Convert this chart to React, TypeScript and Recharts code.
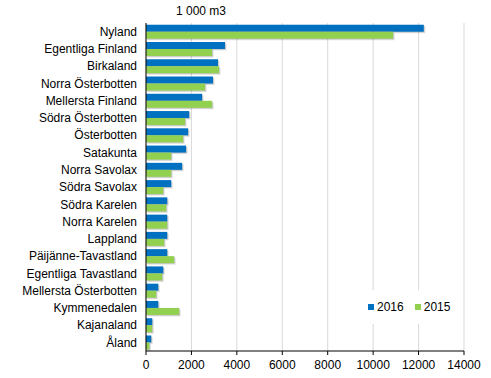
import React from 'react';
import { BarChart, Bar, XAxis, YAxis, CartesianGrid, Legend } from 'recharts';

const regions = [
  'Nyland', 'Egentliga Finland', 'Birkaland', 'Norra Österbotten', 'Mellersta Finland',
  'Södra Österbotten', 'Österbotten', 'Satakunta', 'Norra Savolax', 'Södra Savolax',
  'Södra Karelen', 'Norra Karelen', 'Lappland', 'Päijänne-Tavastland', 'Egentliga Tavastland',
  'Mellersta Österbotten', 'Kymmenedalen', 'Kajanaland', 'Åland',
];
const values2016 = [12230, 3480, 3170, 2950, 2470, 1900, 1855, 1765, 1590, 1110, 935, 935, 935, 935, 760, 540, 540, 275, 230];
const values2015 = [10880, 2910, 3215, 2600, 2910, 1720, 1635, 1110, 1110, 760, 890, 935, 800, 1240, 715, 450, 1460, 275, 145];
const xTicks = [0, 2000, 4000, 6000, 8000, 10000, 12000, 14000];

const data = regions.map((r, i) => ({ region: r, v2016: values2016[i], v2015: values2015[i] }));

const FONT = '"Liberation Sans", Arial, sans-serif';

const ShadowBar = (props: any) => {
  const { x, y, width, height, fill } = props;
  if (!width || width <= 0) return null;
  return (
    <g>
      <rect x={x + 1.5} y={y + 1.5} width={width} height={height} fill="rgba(0,0,0,0.12)" />
      <rect x={x + 0.8} y={y + 0.8} width={width} height={height} fill="rgba(0,0,0,0.10)" />
      <rect x={x} y={y} width={width} height={height} fill={fill} />
    </g>
  );
};

const LegendContent = () => (
  <div style={{ background: '#fff', width: 96, height: 34, display: 'flex', alignItems: 'center', fontFamily: FONT, fontSize: 12, color: '#000' }}>
    <span style={{ display: 'inline-block', width: 6, height: 6, background: '#0070C0', marginLeft: 8, marginRight: 3 }} />
    <span>2016</span>
    <span style={{ display: 'inline-block', width: 6, height: 6, background: '#92D050', marginLeft: 11, marginRight: 3 }} />
    <span>2015</span>
  </div>
);

export default function App() {
  return (
    <div style={{ position: 'absolute', left: 0, top: 0, width: 491, height: 378, background: '#fff' }}>
      <div style={{ position: 'absolute', left: 176, top: 4, fontFamily: FONT, fontSize: 12, color: '#000' }}>1 000 m3</div>
      <BarChart
        width={491}
        height={378}
        data={data}
        layout="vertical"
        margin={{ top: 23, right: 27, bottom: 0, left: 0 }}
        barCategoryGap="10%"
        barGap={0}
      >
        <CartesianGrid horizontal={false} vertical={true} stroke="#d9d9d9" />
        <XAxis
          type="number"
          domain={[0, 14000]}
          ticks={xTicks}
          interval={0}
          height={27}
          tickSize={4}
          tickMargin={5}
          axisLine={{ stroke: '#000' }}
          tickLine={{ stroke: '#000' }}
          tick={{ fill: '#000', fontSize: 12, fontFamily: FONT }}
        />
        <YAxis
          type="category"
          dataKey="region"
          width={146}
          interval={0}
          tickSize={0}
          tickMargin={9}
          axisLine={{ stroke: '#000' }}
          tickLine={false}
          tick={{ fill: '#000', fontSize: 12, fontFamily: FONT }}
        />
        <Legend
          layout="horizontal"
          verticalAlign="bottom"
          align="left"
          content={<LegendContent />}
          wrapperStyle={{ position: 'absolute', left: 360, top: 290, width: 0, height: 0, overflow: 'visible' }}
        />
        <Bar dataKey="v2016" name="2016" fill="#0070C0" isAnimationActive={false} shape={<ShadowBar />} />
        <Bar dataKey="v2015" name="2015" fill="#92D050" isAnimationActive={false} shape={<ShadowBar />} />
      </BarChart>
    </div>
  );
}
